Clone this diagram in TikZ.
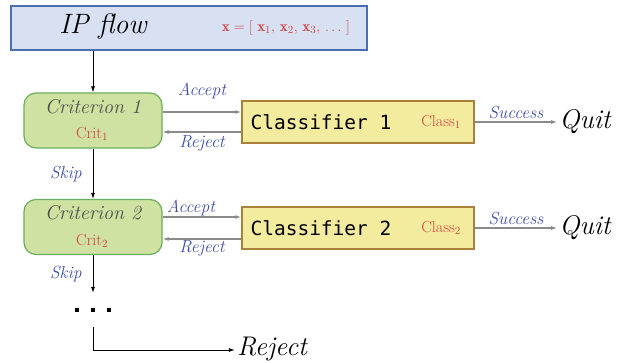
\documentclass[tikz,border=0pt]{standalone}
\usepackage{fontspec}
\newfontfamily\monof{DejaVu Sans Mono}
\usetikzlibrary{arrows.meta}
\definecolor{ipfill}{HTML}{D7E1F2}
\definecolor{ipdraw}{HTML}{4B6EAF}
\definecolor{grfill}{HTML}{CFE2A1}
\definecolor{grdraw}{HTML}{6AAE5E}
\definecolor{yefill}{HTML}{F3EC9E}
\definecolor{yedraw}{HTML}{A8803A}
\definecolor{redt}{HTML}{D64040}
\definecolor{bluet}{HTML}{3E4DA6}
\definecolor{grayt}{HTML}{4D4D4D}
\definecolor{arrg}{HTML}{8A8A8A}
\tikzset{
  ipbox/.style={draw=ipdraw, fill=ipfill, line width=1.6pt, minimum width=356pt, minimum height=44pt, inner sep=0pt},
  critbox/.style={draw=grdraw, fill=grfill, line width=1.2pt, rounded corners=12pt, minimum width=138pt, minimum height=55pt, inner sep=0pt},
  clsbox/.style={draw=yedraw, fill=yefill, line width=1.4pt, minimum width=232pt, minimum height=42pt, inner sep=0pt},
  lbl/.style={text=bluet, font=\fontsize{17.5}{17.5}\selectfont\itshape, inner sep=1pt},
  bigt/.style={font=\fontsize{27}{27}\selectfont\itshape, inner sep=2pt},
  redlbl/.style={text=redt, font=\fontsize{16}{16}\selectfont, inner sep=0pt},
  crittxt/.style={text=grayt, font=\fontsize{20}{20}\selectfont\itshape, inner sep=0pt},
  montxt/.style={font=\monof\fontsize{19.5}{19.5}\selectfont, inner sep=0pt},
  garr/.style={draw=arrg, line width=1.3pt, -{Latex[length=6pt,width=4pt]}},
  karr/.style={draw=black, line width=0.8pt, -{Latex[length=6pt,width=4pt]}},
  dotbox/.style={inner sep=0pt, minimum width=36pt, minimum height=10pt},
}
\begin{document}
\begin{tikzpicture}[x=1pt,y=-1pt]
\useasboundingbox (0,0) rectangle (618,363);
% IP flow box
\node[ipbox] (ip) at (189,28) {};
\node[font=\fontsize{28}{28}\selectfont\itshape, inner sep=0pt] (iptxt) at (103,27) {IP flow};
\node[redlbl, font=\fontsize{15}{15}\selectfont] (vec) at (286,28) {$\mathbf{x} = [\ \mathbf{x}_1,\,\mathbf{x}_2,\,\mathbf{x}_3,\,\dots\ ]$};
% criterion 1
\node[critbox] (c1) at (93,120.5) {};
\node[crittxt] (c1t) at (93,107) {Criterion 1};
\node[redlbl] (c1r) at (92,134) {Crit$_1$};
% classifier 1
\node[clsbox] (k1) at (358,122) {};
\node[montxt] (k1t) at (321,122) {Classifier 1};
\node[redlbl] (k1r) at (441,122) {Class$_1$};
\node[bigt] (q1) at (585,122) {Quit};
% criterion 2
\node[critbox] (c2) at (93,227) {};
\node[crittxt] (c2t) at (93,213) {Criterion 2};
\node[redlbl] (c2r) at (92,241) {Crit$_2$};
% classifier 2
\node[clsbox] (k2) at (358,228) {};
\node[montxt] (k2t) at (321,228) {Classifier 2};
\node[redlbl] (k2r) at (441,228) {Class$_2$};
\node[bigt] (q2) at (585,228) {Quit};
% dots and final reject
\node[dotbox] (dots) at (93,310) {};
\foreach \dx in {-16,0,16} \fill ([xshift=\dx pt]dots.center) ++(-1.9,-1.9) rectangle ++(3.8,3.8);
\coordinate (corner) at (93,350);
\node[bigt] (rej) at (272,349) {Reject};
% connectors
\draw[karr] (ip.south -| c1.north) -- (c1.north);
\draw[garr] ([yshift=8.5pt]c1.east) -- ([yshift=8.5pt]c1.east -| k1.west) node[lbl, midway, above=11pt] {Accept};
\draw[garr] ([yshift=-10pt]k1.west) -- ([yshift=-10pt]k1.west -| c1.east) node[lbl, midway, below=2pt] {Reject};
\draw[garr] (k1.east) -- (q1.west) node[lbl, midway, above=1pt] {Success};
\draw[karr] (c1.south) -- (c2.north) node[lbl, midway, left=10pt] {Skip};
\draw[garr] ([yshift=10pt]c2.east) -- ([yshift=10pt]c2.east -| k2.west) node[lbl, midway, above=-1pt, xshift=-11pt] {Accept};
\draw[garr] ([yshift=-11pt]k2.west) -- ([yshift=-11pt]k2.west -| c2.east) node[lbl, midway, below=0pt] {Reject};
\draw[garr] (k2.east) -- (q2.west) node[lbl, midway, above=1pt] {Success};
\draw[karr] (c2.south) -- ([yshift=12pt]dots.north) node[lbl, midway, left=10pt] {Skip};
\draw[karr] ([yshift=-12pt]dots.south) -- (corner) -- (corner -| rej.west);
\end{tikzpicture}
\end{document}
